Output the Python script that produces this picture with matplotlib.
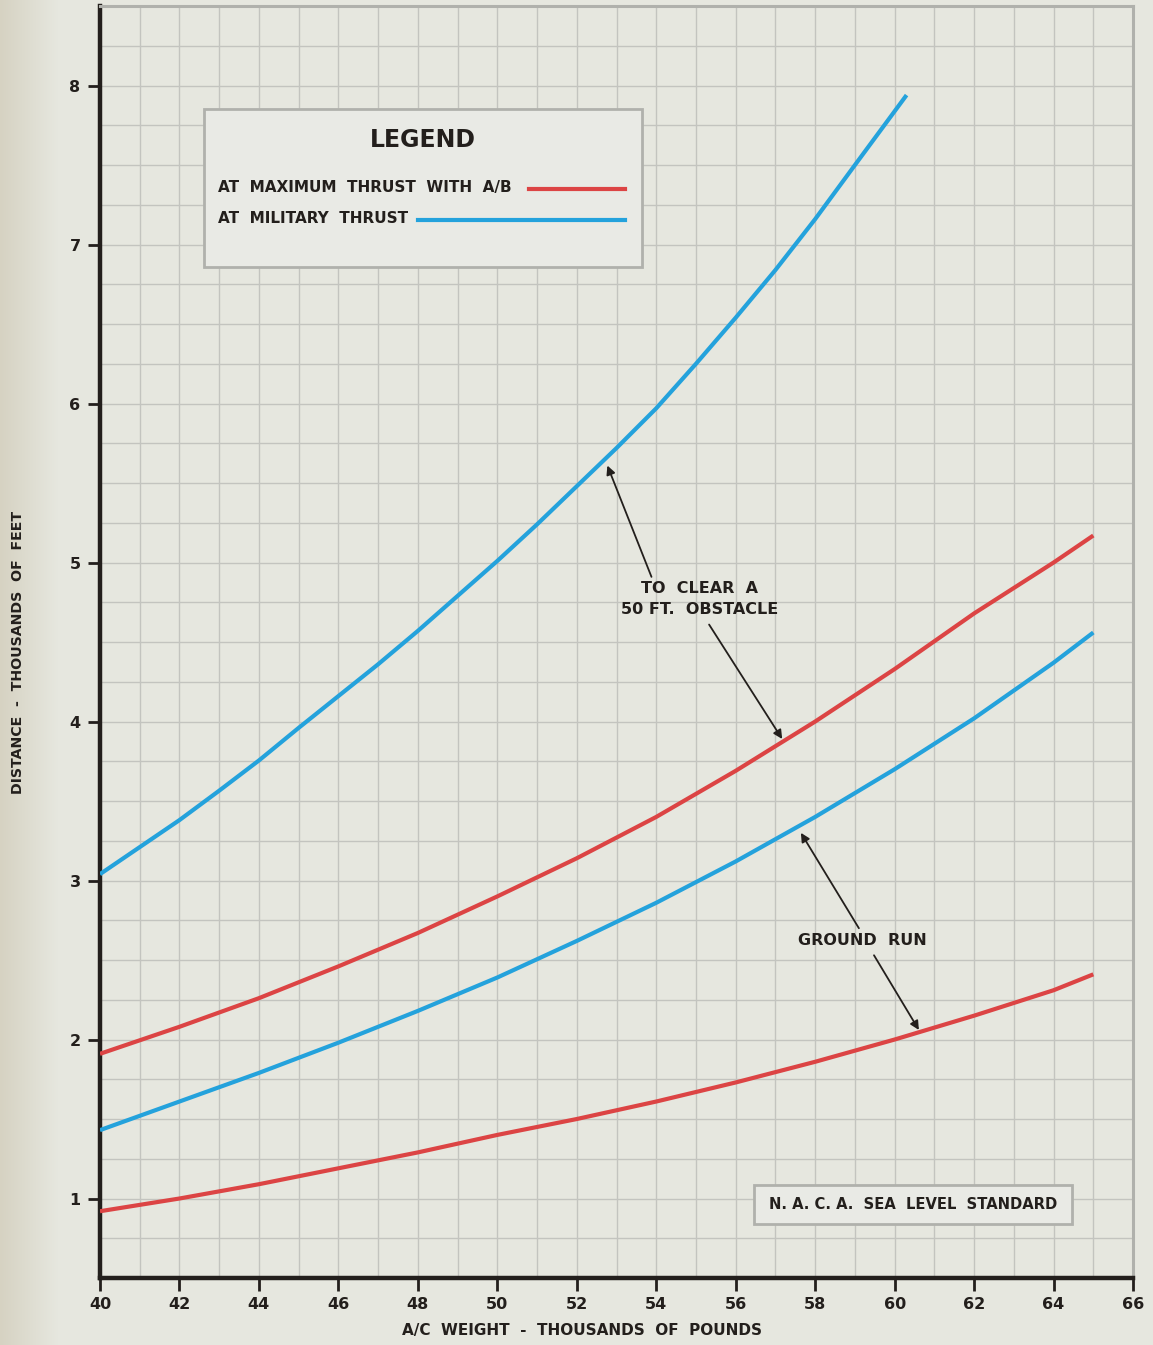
#---Takeoff distance chart---
#Distance to clear a 50 ft obstacle and ground run, against aircraft weight

import matplotlib.pyplot as plt
import numpy as np

#---Data---
Weight = [40, 42, 44, 46, 48, 50, 52, 54, 56, 58, 60, 62, 64, 65]

#Military thrust, to clear a 50 ft obstacle (ends near 60.3)
MilObstW = [40, 41, 42, 43, 44, 45, 46, 47, 48, 49, 50, 51, 52, 53, 54, 55, 56, 57, 58, 59, 60.3]
MilObst = [3.04, 3.21, 3.38, 3.565, 3.755, 3.96, 4.16, 4.36, 4.57, 4.79, 5.01, 5.24,
           5.48, 5.72, 5.97, 6.25, 6.54, 6.84, 7.16, 7.50, 7.94]

#Maximum thrust with A/B, to clear a 50 ft obstacle
MaxObst = [1.91, 2.08, 2.26, 2.46, 2.67, 2.90, 3.14, 3.40, 3.69, 4.00, 4.33, 4.68, 5.00, 5.17]

#Military thrust, ground run
MilGround = [1.43, 1.61, 1.79, 1.98, 2.18, 2.39, 2.62, 2.86, 3.12, 3.40, 3.70, 4.02, 4.37, 4.56]

#Maximum thrust with A/B, ground run
MaxGround = [0.92, 1.00, 1.09, 1.19, 1.29, 1.40, 1.50, 1.61, 1.73, 1.86, 2.00, 2.15, 2.31, 2.41]

XTicks = list(range(40, 67, 2))
YTicks = list(range(1, 9))

#---Style---
Red = "#dc4444"
Blue = "#24a2dc"
Paper = "#e6e7df"
GridColour = "#c3c4bf"
Ink = "#231f1c"
FontName = "DejaVu Sans"
FontSize = 11.5

plt.rcParams['font.family'] = [FontName]

Fig = plt.figure(figsize=(11.53, 13.45), dpi=100, facecolor=Paper)

#slightly darker, yellowed strip at the left page edge
Edge = Fig.add_axes([0, 0, 0.05, 1], zorder=-5)
Edge.imshow(np.linspace(0, 1, 64)[None, :], aspect='auto', cmap=plt.matplotlib.colors.LinearSegmentedColormap.from_list("edge", ["#d6d2c2", Paper]), extent=[0, 1, 0, 1])
Edge.axis('off')

Ax = Fig.add_axes([0.0867, 0.0498, 0.896, 0.9457])
Ax.set_facecolor(Paper)

Ax.set_xlim(40, 66)
Ax.set_ylim(0.5, 8.5)

#grid: every 1000 lb across, every 250 ft up
Ax.set_xticks(XTicks)
Ax.set_xticks(np.arange(40, 67, 1), minor=True)
Ax.set_yticks(YTicks)
Ax.set_yticks(np.arange(0.5, 8.51, 0.25), minor=True)
Ax.grid(which='both', color=GridColour, linewidth=1.0)
Ax.set_axisbelow(True)

Ax.tick_params(which='major', direction='out', length=9, width=2, color=Ink,
               labelsize=FontSize, labelcolor=Ink, pad=5)
Ax.tick_params(which='minor', length=0)
for Lab in Ax.get_xticklabels() + Ax.get_yticklabels():
    Lab.set_fontweight('bold')

for S in ['left', 'bottom']:
    Ax.spines[S].set_color(Ink)
    Ax.spines[S].set_linewidth(3.2)
for S in ['top', 'right']:
    Ax.spines[S].set_color("#b0b1ac")
    Ax.spines[S].set_linewidth(2.2)

#---Curves---
Ax.plot(MilObstW, MilObst, color=Blue, lw=3, solid_capstyle='butt', zorder=3)
Ax.plot(Weight, MaxObst, color=Red, lw=3, solid_capstyle='butt', zorder=3)
Ax.plot(Weight, MilGround, color=Blue, lw=3, solid_capstyle='butt', zorder=3)
Ax.plot(Weight, MaxGround, color=Red, lw=3, solid_capstyle='butt', zorder=3)

#---Annotations---
ArrowStyle = dict(arrowstyle='-|>', color=Ink, lw=1.3, mutation_scale=13, shrinkA=0, shrinkB=0)
Ax.text(55.1, 4.77, "TO  CLEAR  A\n50 FT.  OBSTACLE", ha='center', va='center',
        fontsize=FontSize, fontweight='bold', color=Ink, linespacing=1.5, zorder=4)
Ax.annotate("", xy=(52.77, 5.61), xytext=(53.88, 4.91), arrowprops=ArrowStyle, zorder=4)
Ax.annotate("", xy=(57.17, 3.89), xytext=(55.33, 4.61), arrowprops=ArrowStyle, zorder=4)

Ax.text(59.18, 2.62, "GROUND  RUN", ha='center', va='center',
        fontsize=FontSize, fontweight='bold', color=Ink, zorder=4)
Ax.annotate("", xy=(57.64, 3.30), xytext=(59.10, 2.70), arrowprops=ArrowStyle, zorder=4)
Ax.annotate("", xy=(60.61, 2.06), xytext=(59.48, 2.53), arrowprops=ArrowStyle, zorder=4)

#---Legend box (drawn by hand to match the printed chart)---
LegBox = plt.Rectangle((42.62, 6.86), 11.02, 0.995, facecolor="#e9eae5",
                       edgecolor="#b0b1ac", lw=2, zorder=5)
Ax.add_patch(LegBox)
Ax.text(48.13, 7.655, "LEGEND", ha='center', va='center', fontsize=17,
        fontweight='heavy', color=Ink, zorder=6)
Ax.text(42.98, 7.36, "AT  MAXIMUM  THRUST  WITH  A/B", ha='left', va='center',
        fontsize=11, fontweight='bold', color=Ink, zorder=6)
Ax.text(42.98, 7.165, "AT  MILITARY  THRUST", ha='left', va='center',
        fontsize=11, fontweight='bold', color=Ink, zorder=6)
Ax.plot([50.80, 53.22], [7.35, 7.35], color=Red, lw=3, zorder=6)
Ax.plot([48.00, 53.22], [7.155, 7.155], color=Blue, lw=3, zorder=6)

#---Standard atmosphere note---
NoteBox = plt.Rectangle((56.46, 0.84), 8.0, 0.245, facecolor="#e9eae5",
                        edgecolor="#b0b1ac", lw=2, zorder=5)
Ax.add_patch(NoteBox)
Ax.text(60.46, 0.963, "N. A. C. A.  SEA  LEVEL  STANDARD", ha='center', va='center',
        fontsize=10.6, fontweight='bold', color=Ink, zorder=6)

#---Axis labels---
Ax.set_xlabel("A/C  WEIGHT  -  THOUSANDS  OF  POUNDS", fontsize=11,
              fontweight='bold', color=Ink, labelpad=7)
Ax.xaxis.set_label_coords(0.467, -0.035)
Fig.text(0.0156, 0.515, "DISTANCE  -  THOUSANDS  OF  FEET", rotation=90,
         ha='center', va='center', fontsize=10.2, fontweight='bold', color=Ink)

Fig.savefig("out.png", dpi=100, facecolor=Paper)
